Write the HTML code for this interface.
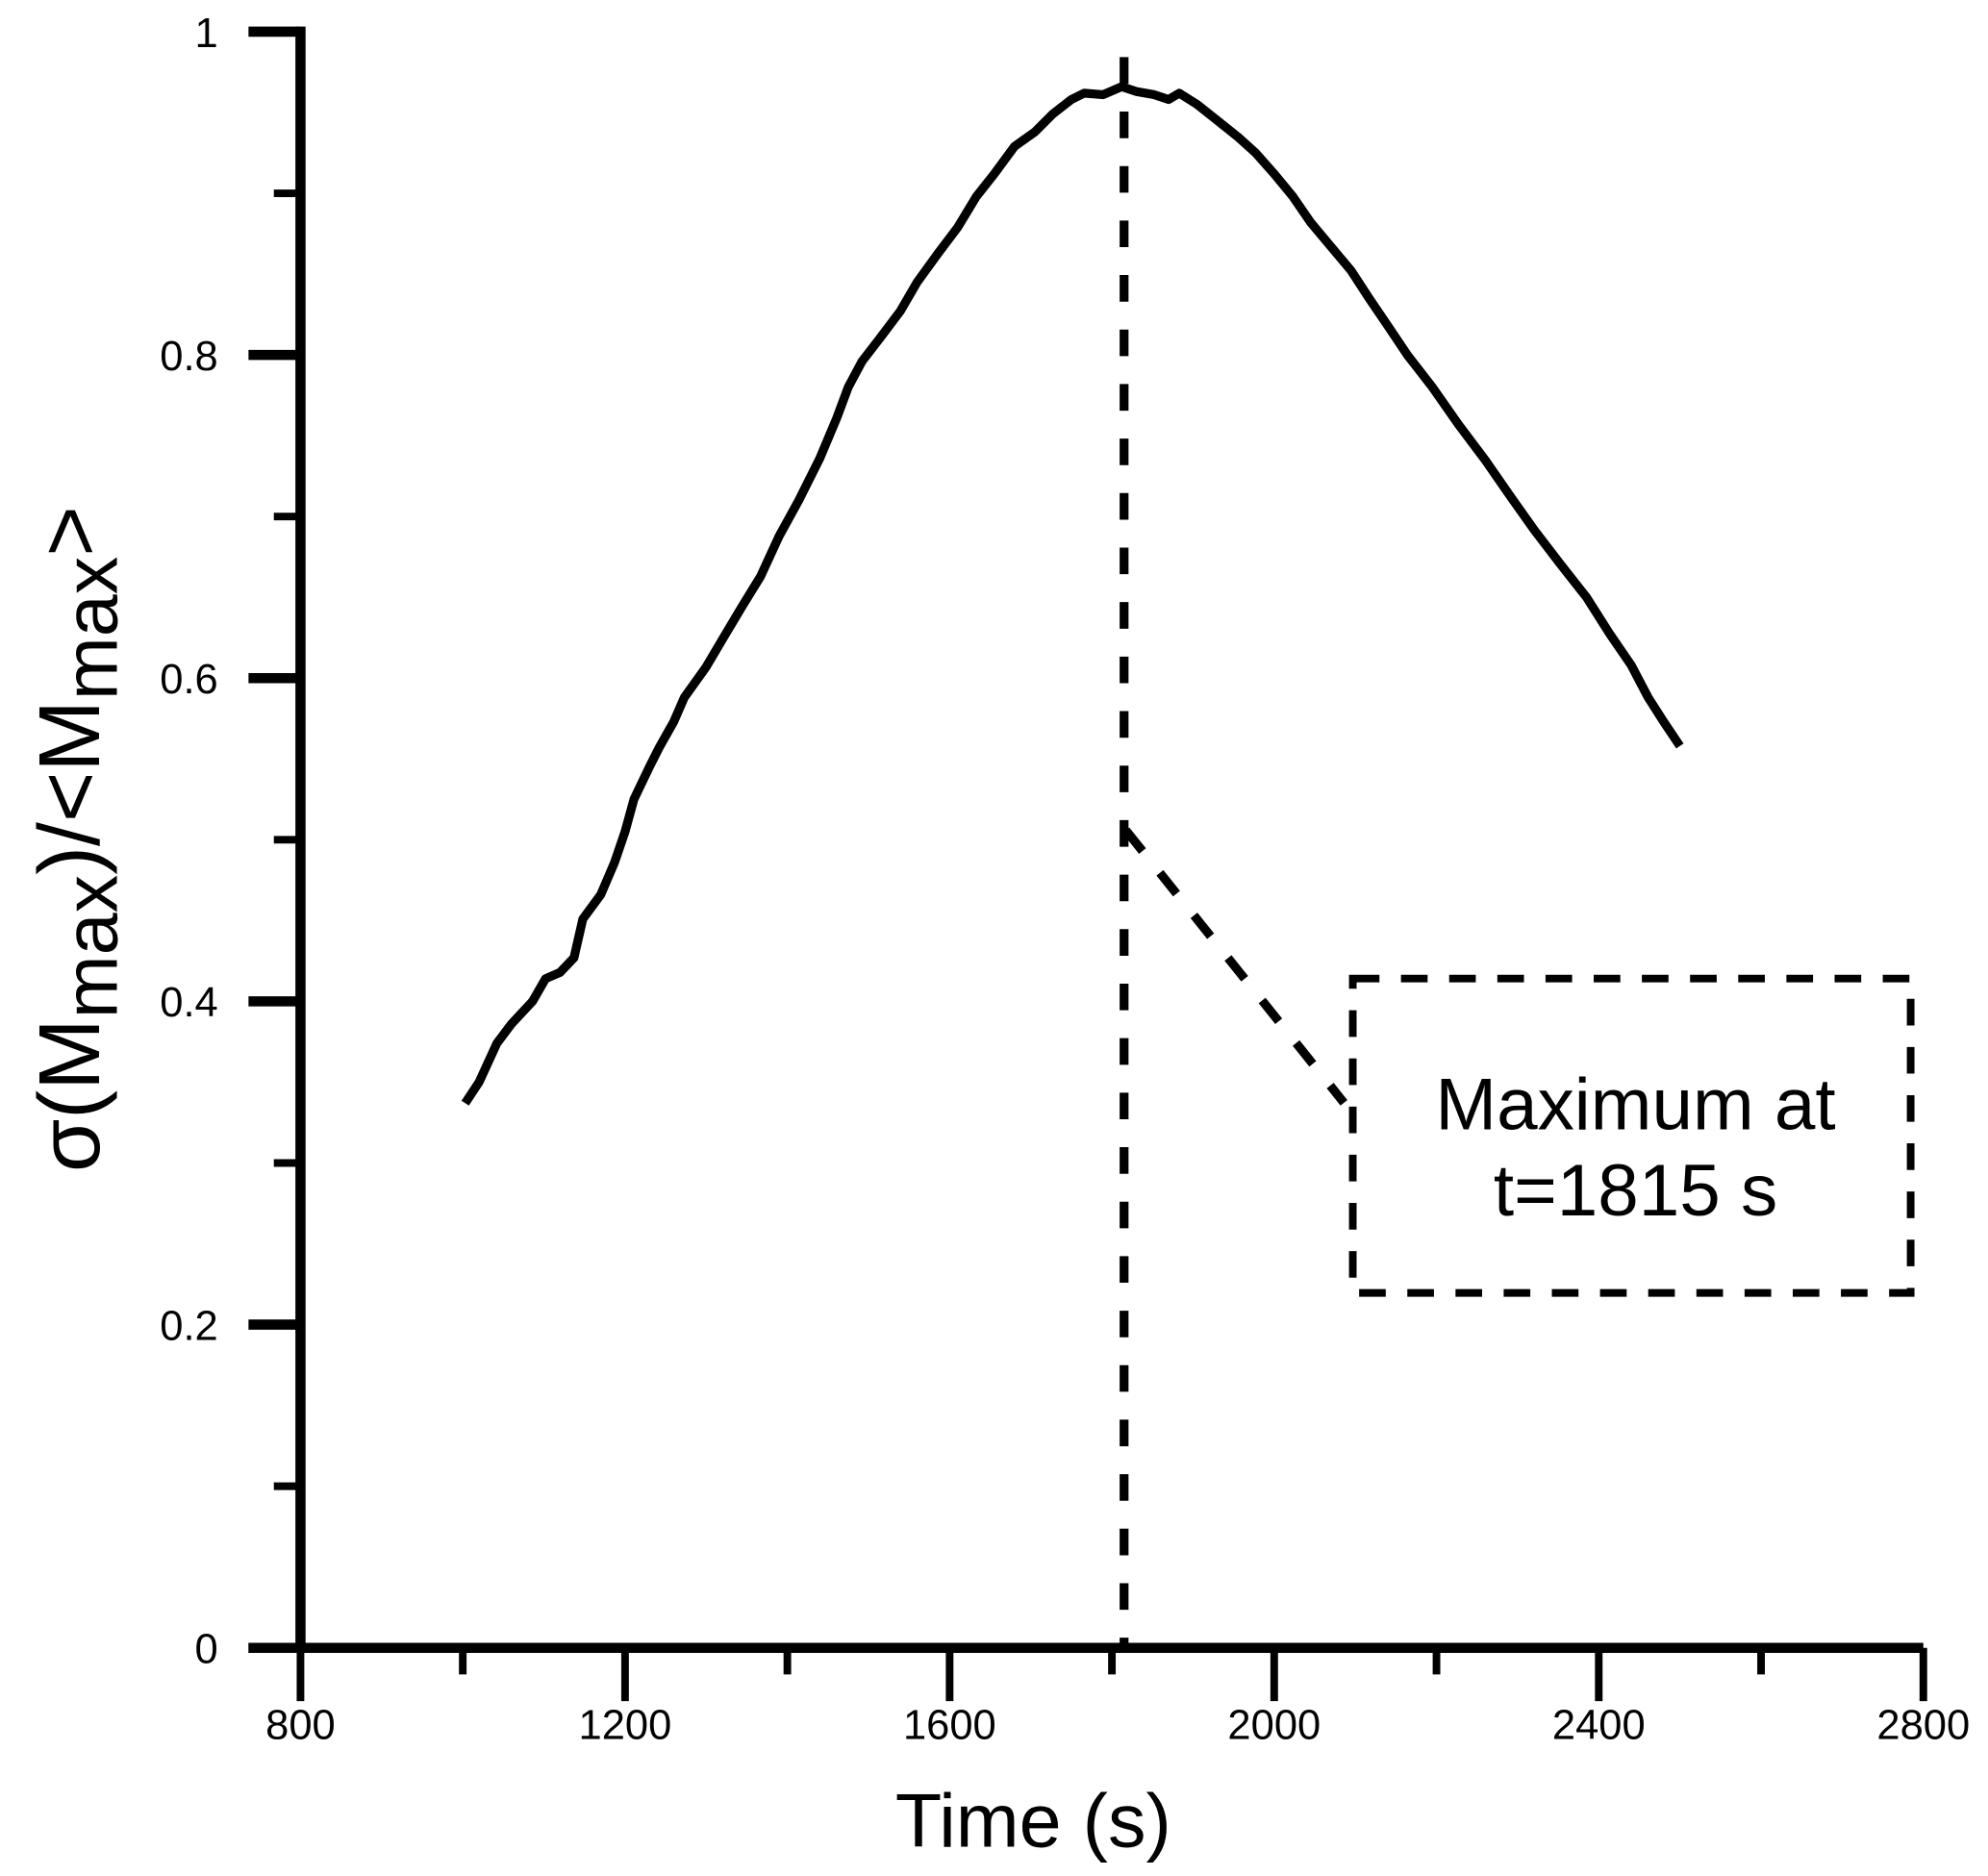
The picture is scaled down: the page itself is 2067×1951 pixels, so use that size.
<!DOCTYPE html>
<html><head><meta charset="utf-8"><style>
html,body{margin:0;padding:0;background:#fff}
svg{display:block}
text{font-family:"Liberation Sans",sans-serif;fill:#000}
</style></head><body>
<svg id="chart" width="2067" height="1951" viewBox="0 0 1568 1480" preserveAspectRatio="none" xmlns="http://www.w3.org/2000/svg">
<g id="axes"></g>
<path id="curve" fill="none" stroke="#000" stroke-width="7" stroke-linejoin="round"/>
<line id="vline" stroke="#000" stroke-width="7" stroke-dasharray="21,22"/>
<line x1="888" y1="655" x2="1060" y2="870" stroke="#000" stroke-width="7" stroke-dasharray="21,22"/>
<rect x="1067" y="772" width="440" height="248" fill="none" stroke="#000" stroke-width="6" stroke-dasharray="21,17"/>
<text x="1290" y="891" font-size="58" text-anchor="middle">Maximum at</text>
<text x="1290" y="959" font-size="58" text-anchor="middle">t=1815 s</text>
<text x="815" y="1457" font-size="60" text-anchor="middle">Time (s)</text>
<text transform="translate(78,662) rotate(-90)" font-size="68" text-anchor="middle">σ(M<tspan dy="14" font-size="60">max</tspan><tspan dy="-14">)/&lt;M</tspan><tspan dy="14" font-size="60">max</tspan><tspan dy="-14">&gt;</tspan></text>
</svg>
<script>
const times=[1003,1020,1042,1060,1086,1102,1120,1137,1148,1170,1187,1200,1211,1230,1242,1260,1273,1300,1320,1345,1367,1390,1414,1440,1461,1475,1492,1515,1539,1560,1586,1610,1633,1655,1680,1705,1727,1750,1766,1789,1812,1830,1852,1870,1883,1905,1930,1955,1977,2000,2023,2045,2070,2095,2117,2140,2164,2195,2227,2260,2289,2320,2352,2385,2414,2440,2461,2480,2500];
const values=[0.337,0.350,0.374,0.386,0.400,0.414,0.418,0.427,0.451,0.466,0.486,0.505,0.525,0.545,0.557,0.573,0.588,0.607,0.624,0.645,0.663,0.688,0.710,0.736,0.761,0.780,0.796,0.811,0.827,0.845,0.863,0.879,0.898,0.912,0.929,0.938,0.949,0.958,0.962,0.961,0.966,0.963,0.961,0.958,0.962,0.955,0.945,0.935,0.925,0.912,0.898,0.882,0.867,0.852,0.835,0.818,0.800,0.780,0.757,0.735,0.714,0.692,0.671,0.650,0.627,0.608,0.588,0.573,0.558];
const xTickLabels=[800,1200,1600,2000,2400,2800];
const xMinorTicks=[1000,1400,1800,2200,2600];
const yTickLabels=[0,0.2,0.4,0.6,0.8,1];
const yMinorTicks=[0.1,0.3,0.5,0.7,0.9];
const maxTime=1815;
const X=t=>237+(t-800)*0.64;
const Y=v=>1300-v*1275;
const NS='http://www.w3.org/2000/svg';
const axes=document.getElementById('axes');
function ln(x1,y1,x2,y2,w,name){const l=document.createElementNS(NS,'line');
l.setAttribute('x1',x1);l.setAttribute('y1',y1);l.setAttribute('x2',x2);l.setAttribute('y2',y2);
l.setAttribute('stroke','#000');l.setAttribute('stroke-width',w);


axes.appendChild(l);}
function tx(x,y,s,anchor,name){const t=document.createElementNS(NS,'text');
t.setAttribute('x',x);t.setAttribute('y',y);t.setAttribute('font-size','33');t.setAttribute('text-anchor',anchor);t.textContent=s;


axes.appendChild(t);}
ln(237,Y(1)-4,237,1304,8,'y-axis-line');
ln(196,1300,1517,1300,8,'x-axis-line');
yTickLabels.forEach(v=>{ln(196,Y(v),237,Y(v),8,'y-major-tick');tx(172,Y(v)+12,String(v),'end','y-tick-label');});
yMinorTicks.forEach(v=>ln(216,Y(v),237,Y(v),6,'y-minor-tick'));
xTickLabels.forEach(t=>{ln(X(t),1300,X(t),1342,6,'x-major-tick');tx(X(t),1372,String(t),'middle','x-tick-label');});
xMinorTicks.forEach(t=>ln(X(t),1300,X(t),1321,6,'x-minor-tick'));
document.getElementById('curve').setAttribute('d',times.map((t,i)=>(i?'L':'M')+X(t).toFixed(1)+','+Y(values[i]).toFixed(1)).join(''));
const vl=document.getElementById('vline');
vl.setAttribute('x1',X(maxTime));vl.setAttribute('x2',X(maxTime));vl.setAttribute('y1',45);vl.setAttribute('y2',1300);
</script>
</body></html>
